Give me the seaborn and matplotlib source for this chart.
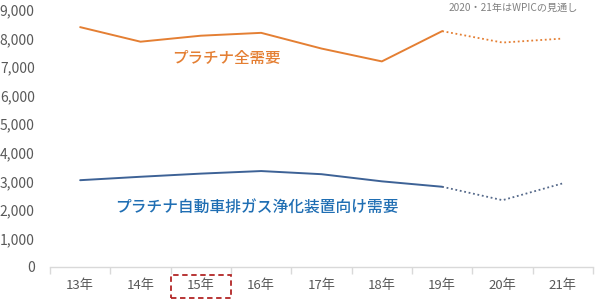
import matplotlib
matplotlib.use("Agg")
import matplotlib.pyplot as plt
import seaborn as sns
import pandas as pd
from matplotlib.patches import Rectangle

categories = ["13年", "14年", "15年", "16年", "17年", "18年", "19年", "20年", "21年"]
total_demand = [8400, 7890, 8100, 8200, 7650, 7200, 8260, 7860, 8000]
auto_demand = [3040, 3160, 3270, 3360, 3250, 3000, 2810, 2340, 2930]
actual_last = 6  # index of 19年; after it values are forecasts
yticks = [0, 1000, 2000, 3000, 4000, 5000, 6000, 7000, 8000, 9000]

sns.set_theme(style="white")
plt.rcParams['font.family'] = ['Noto Sans CJK JP', 'DejaVu Sans']

ORANGE = "#E47F33"
BLUE_LINE = "#3D6296"
BLUE_TEXT = "#1F6EB3"

fig = plt.figure(figsize=(6.0, 3.05), dpi=100)
ax = fig.add_axes([50/600, 38/305, 543/600, 257/305])

x = list(range(len(categories)))
df = pd.DataFrame({"x": x, "total": total_demand, "auto": auto_demand})
solid = df.iloc[:actual_last + 1]
dotted = df.iloc[actual_last:]

sns.lineplot(data=solid, x="x", y="total", ax=ax, color=ORANGE, lw=1.4)
sns.lineplot(data=dotted, x="x", y="total", ax=ax, color=ORANGE, lw=1.3, linestyle=(0, (1, 1.5)))
sns.lineplot(data=solid, x="x", y="auto", ax=ax, color=BLUE_LINE, lw=1.4)
sns.lineplot(data=dotted, x="x", y="auto", ax=ax, color="#55698A", lw=1.3, linestyle=(0, (1, 1.5)))

ax.set_xlim(-0.5, len(categories) - 0.5)
ax.set_ylim(0, 9000)
ax.set_yticks(yticks)
ax.set_yticklabels([f"{v:,}" for v in yticks])
ax.set_xticks(x)
ax.set_xticklabels(categories)
ax.set_xticks([i - 0.5 for i in range(len(categories) + 1)], minor=True)
ax.set_xlabel("")
ax.set_ylabel("")

for s in ["top", "right", "left"]:
    ax.spines[s].set_visible(False)
ax.spines["bottom"].set_color("#D9D9D9")
ax.spines["bottom"].set_linewidth(1.0)
ax.tick_params(axis="x", which="major", length=0, pad=9, labelsize=9.5, labelcolor="#595959")
ax.tick_params(axis="x", which="minor", length=5, color="#D9D9D9", width=1.0, bottom=True)
ax.tick_params(axis="y", length=0, pad=11, labelsize=10, labelcolor="#595959")

ax.text(2.43, 7300, "プラチナ全需要", color=ORANGE, fontsize=11.2, ha="center", va="center",
        fontweight="medium")
ax.text(0.58, 2050, "プラチナ自動車排ガス浄化装置向け需要", color=BLUE_TEXT, fontsize=11.3,
        ha="left", va="center", fontweight="medium")

fig.text(578/600, 1 - 8/305, "2020・21年はWPICの見通し", color="#808080", fontsize=7.3, ha="right", va="center")

rect = Rectangle((171/600, 1 - 298/305), 60/600, 23/305, transform=fig.transFigure,
                 fill=False, edgecolor="#B22525", lw=1.3, linestyle=(0, (3, 2)))
fig.patches.append(rect)

fig.savefig("out.png", dpi=100, facecolor="white")
